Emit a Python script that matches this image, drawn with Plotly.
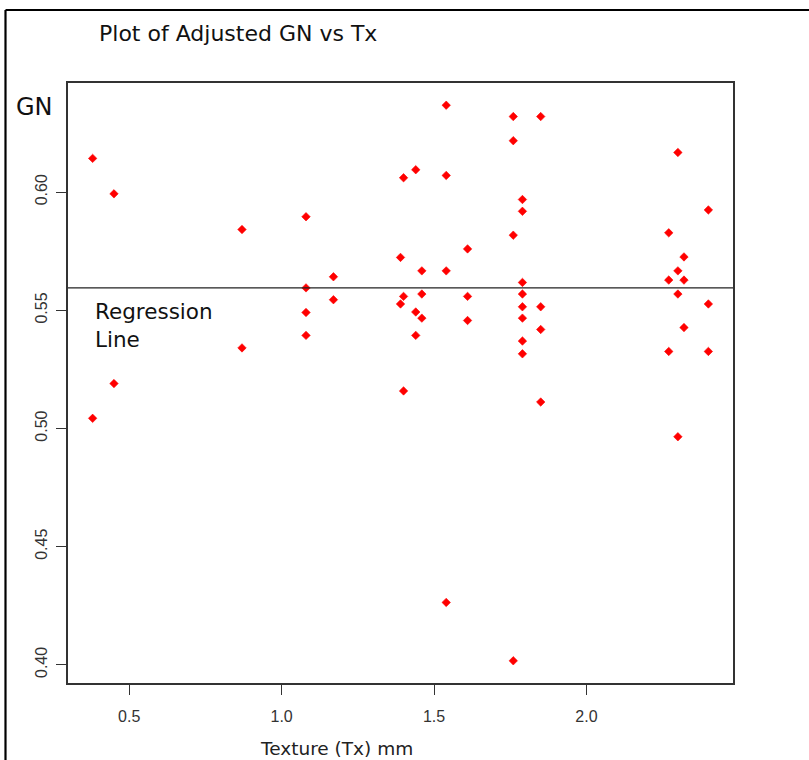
import plotly.graph_objects as go

# Texture (Tx, mm) and adjusted GN values
tx = [0.38, 0.38,
      0.45, 0.45,
      0.87, 0.87,
      1.08, 1.08, 1.08, 1.08,
      1.17, 1.17,
      1.39, 1.39,
      1.40, 1.40, 1.40,
      1.44, 1.44, 1.44,
      1.46, 1.46, 1.46,
      1.54, 1.54, 1.54, 1.54,
      1.61, 1.61, 1.61,
      1.76, 1.76, 1.76, 1.76,
      1.79, 1.79, 1.79, 1.79, 1.79, 1.79, 1.79, 1.79,
      1.85, 1.85, 1.85, 1.85,
      2.27, 2.27, 2.27,
      2.30, 2.30, 2.30, 2.30,
      2.32, 2.32, 2.32,
      2.40, 2.40, 2.40]
gn = [0.6143, 0.5043,
      0.5993, 0.5190,
      0.5842, 0.5341,
      0.5896, 0.5595, 0.5491, 0.5394,
      0.5642, 0.5545,
      0.5724, 0.5527,
      0.6061, 0.5559, 0.5159,
      0.6095, 0.5493, 0.5394,
      0.5667, 0.5569, 0.5467,
      0.6368, 0.6071, 0.5667, 0.4264,
      0.5760, 0.5559, 0.5457,
      0.6320, 0.6218, 0.5818, 0.4017,
      0.5969, 0.5919, 0.5618, 0.5569, 0.5515, 0.5467, 0.5370, 0.5316,
      0.6320, 0.5515, 0.5419, 0.5112,
      0.5828, 0.5628, 0.5326,
      0.6168, 0.5667, 0.5569, 0.4965,
      0.5726, 0.5628, 0.5427,
      0.5925, 0.5527, 0.5326]
regression_gn = 0.5595

x_ticks = [0.5, 1.0, 1.5, 2.0]
x_tick_labels = ["0.5", "1.0", "1.5", "2.0"]
y_ticks = [0.40, 0.45, 0.50, 0.55, 0.60]
y_tick_labels = ["0.40", "0.45", "0.50", "0.55", "0.60"]

title_text = "Plot of Adjusted GN vs Tx"
x_title = "Texture (Tx) mm"
y_title = "GN"
reg_label = "Regression<br>Line"

# R-style 4% padding of the data range
xmin, xmax = min(tx), max(tx)
ymin, ymax = min(gn), max(gn)
xpad = (xmax - xmin) * 0.04
ypad = (ymax - ymin) * 0.04

W, H = 809, 760
L, R, T, B = 68, 76, 83, 77
pw, ph = W - L - R, H - T - B

def px_x(p):
    return (p - L) / pw

def px_y(p):
    return (H - B - p) / ph

fig = go.Figure()
fig.add_trace(go.Scatter(
    x=tx, y=gn, mode="markers",
    marker=dict(symbol="diamond", size=6.5, color="#ff0000",
                line=dict(width=0.6, color="#ff0000")),
    showlegend=False, hoverinfo="x+y",
))

fig.add_shape(type="line", xref="paper", yref="y", x0=0, x1=1,
              y0=regression_gn, y1=regression_gn,
              line=dict(color="#222222", width=1.2))

axis_common = dict(
    showgrid=False, zeroline=False, showline=True, linecolor="#333333",
    linewidth=1.5, mirror=True, ticks="outside", ticklen=10, tickwidth=1.2,
    tickcolor="#333333",
    tickfont=dict(family="Liberation Sans, Arial, sans-serif", size=16, color="#333333"),
)

fig.update_xaxes(range=[xmin - xpad, xmax + xpad], tickvals=x_ticks,
                 ticktext=x_tick_labels, ticklabelstandoff=8, **axis_common)
fig.update_yaxes(range=[ymin - ypad, ymax + ypad], tickvals=y_ticks,
                 ticktext=y_tick_labels, tickangle=-90, ticklabelstandoff=3,
                 **axis_common)

ann_font = "DejaVu Sans, Verdana, sans-serif"
fig.add_annotation(text=title_text, xref="paper", yref="paper",
                   x=px_x(97), y=px_y(34), xanchor="left", yanchor="middle",
                   showarrow=False, font=dict(family=ann_font, size=22, color="#111111"))
fig.add_annotation(text=y_title, xref="paper", yref="paper",
                   x=px_x(34), y=px_y(107), xanchor="center", yanchor="middle",
                   showarrow=False, font=dict(family=ann_font, size=24, color="#111111"))
fig.add_annotation(text=x_title, xref="paper", yref="paper",
                   x=px_x(336), y=px_y(748), xanchor="center", yanchor="middle",
                   showarrow=False, font=dict(family=ann_font, size=18.5, color="#222222"))
fig.add_annotation(text=reg_label, xref="paper", yref="paper",
                   x=px_x(93), y=px_y(325), xanchor="left", yanchor="middle",
                   align="left", showarrow=False,
                   font=dict(family=ann_font, size=21.5, color="#111111"))

# outer frame (left and top edges)
fig.add_shape(type="line", xref="paper", yref="paper",
              x0=px_x(5.5), x1=px_x(5.5), y0=px_y(10), y1=px_y(765),
              line=dict(color="#000000", width=2.2))
fig.add_shape(type="line", xref="paper", yref="paper",
              x0=px_x(5.5), x1=px_x(815), y0=px_y(10), y1=px_y(10),
              line=dict(color="#000000", width=2.2))

fig.update_layout(
    width=W, height=H,
    margin=dict(l=L, r=R, t=T, b=B, autoexpand=False),
    paper_bgcolor="white", plot_bgcolor="white",
)

fig.write_html("out.html", config={"displayModeBar": False},
               post_script="document.body.style.margin='0px';document.body.style.overflow='hidden';")
